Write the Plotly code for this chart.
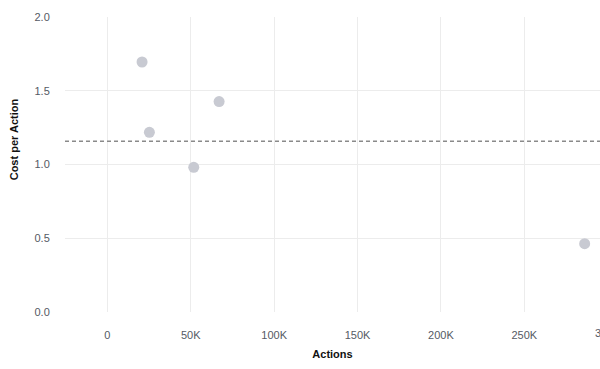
import plotly.graph_objects as go

actions = [20800, 25200, 67000, 51800, 286200]
cost_per_action = [1.695, 1.218, 1.427, 0.981, 0.463]
x_tickvals = [0, 50000, 100000, 150000, 200000, 250000, 300000]
x_ticktext = ["0", "50K", "100K", "150K", "200K", "250K", "300K"]
y_tickvals = [0, 0.5, 1.0, 1.5, 2.0]
y_ticktext = ["0.0", "0.5", "1.0", "1.5", "2.0"]

avg_cpa = sum(cost_per_action) / len(cost_per_action)

x_range = [-25400, 295400]
y_range = [0, 2]

fig = go.Figure()
fig.add_trace(go.Scatter(
    x=actions, y=cost_per_action, mode="markers",
    marker=dict(size=11, color="#c8cad2"),
    hoverinfo="x+y", showlegend=False, cliponaxis=False,
))
fig.add_shape(type="line", xref="paper", x0=0, x1=1, yref="y", y0=avg_cpa, y1=avg_cpa,
              line=dict(color="#8a8a8a", width=1.5, dash="4px,3px"))

plot_top, plot_bottom, plot_left, plot_right = 17, 312.5, 65, 600
plot_h = plot_bottom - plot_top
plot_w = plot_right - plot_left

# partially visible 300K label past the right edge (the chart is cropped there)
frac = (x_tickvals[-1] - x_range[0]) / (x_range[1] - x_range[0])
fig.add_annotation(x=frac, xref="paper", xanchor="center",
                   y=-(334 - plot_bottom) / plot_h, yref="paper", yanchor="middle",
                   text=x_ticktext[-1], showarrow=False,
                   font=dict(size=11, color="#555a64"))

# y axis title (sits above the axis centre in the reference)
fig.add_annotation(x=(13.5 - plot_left) / plot_w, xref="paper", xanchor="center",
                   y=(plot_bottom - 140) / plot_h, yref="paper", yanchor="middle",
                   text="<b>Cost per Action</b>", textangle=-90, showarrow=False,
                   font=dict(size=11, color="#111"))

font_family = "Liberation Sans, Arial, sans-serif"
fig.update_layout(
    width=600, height=369,
    margin=dict(l=plot_left, r=0, t=plot_top, b=369 - plot_bottom),
    paper_bgcolor="white", plot_bgcolor="white",
    font=dict(family=font_family, size=11, color="#555a64"),
    xaxis=dict(range=x_range, tickvals=x_tickvals, ticktext=x_ticktext,
               showgrid=True, gridcolor="#ececec", gridwidth=1,
               zeroline=False, showline=False,
               ticks="outside", ticklen=13, tickcolor="rgba(0,0,0,0)",
               tickfont=dict(size=11, color="#555a64"),
               title=dict(text="<b>Actions</b>", font=dict(size=11, color="#111"), standoff=10)),
    yaxis=dict(range=y_range, tickvals=y_tickvals, ticktext=y_ticktext,
               showgrid=True, gridcolor="#ececec", gridwidth=1,
               zeroline=False, showline=False,
               ticks="outside", ticklen=12, tickcolor="rgba(0,0,0,0)",
               tickfont=dict(size=11, color="#555a64")),
)

fig.write_html("out.html")
